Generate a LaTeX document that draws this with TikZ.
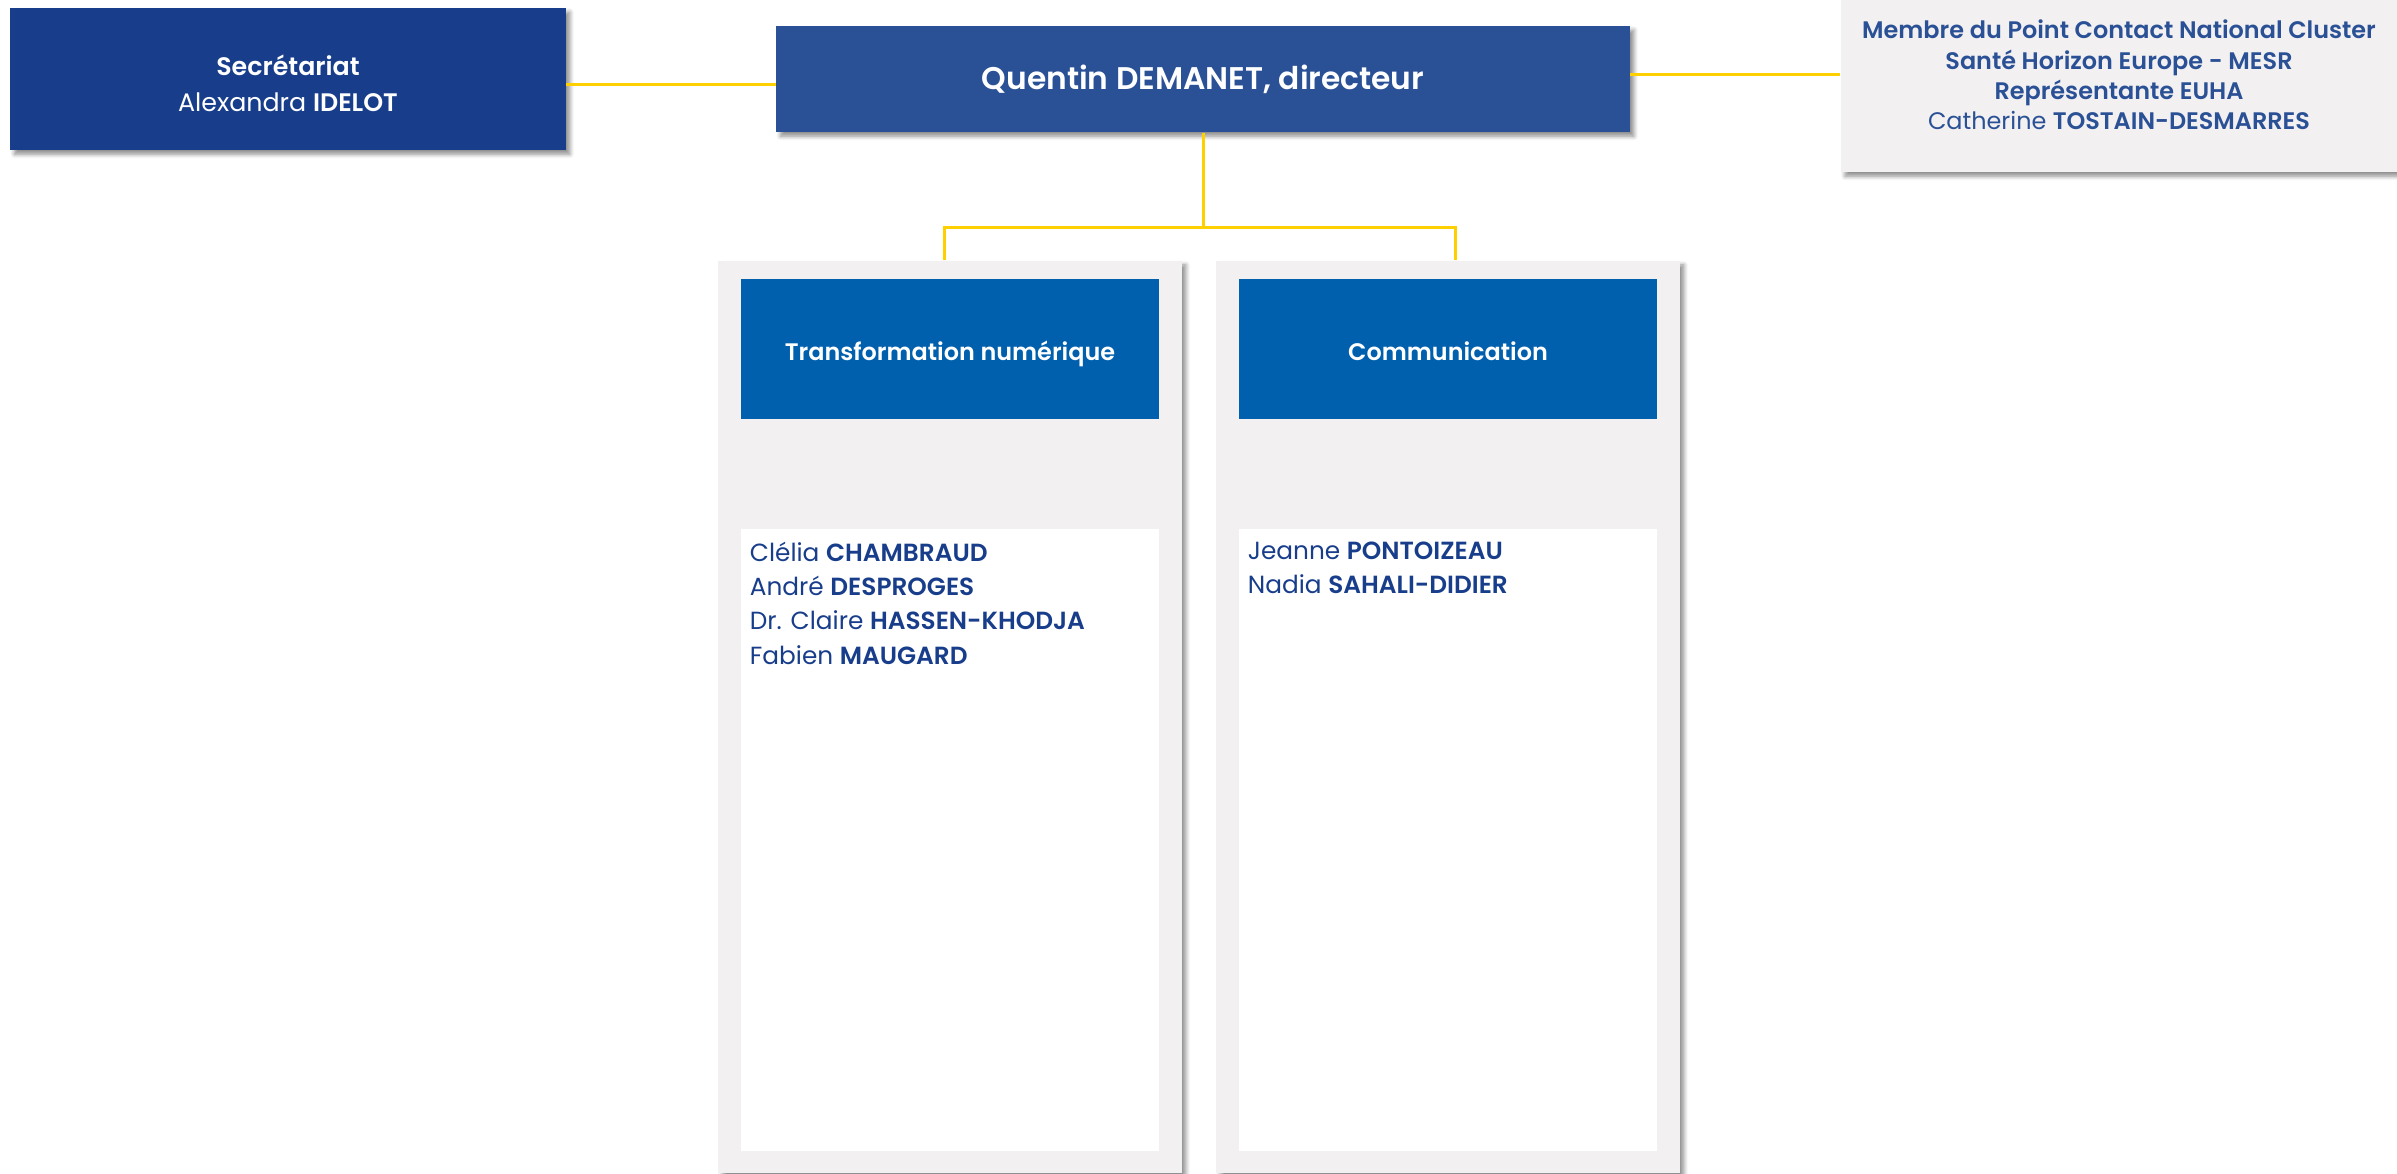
\documentclass[tikz,border=0pt]{standalone}
\usepackage{fontspec}
\setmainfont{Poppins}[BoldFont={Poppins SemiBold}]
\usetikzlibrary{shadows.blur}

\definecolor{navy}{RGB}{24,62,139}
\definecolor{royal}{RGB}{42,80,149}
\definecolor{azure}{RGB}{0,96,173}
\definecolor{paper}{RGB}{242,240,241}
\definecolor{gold}{RGB}{255,208,0}

\begin{document}
\begin{tikzpicture}[x=0.01cm,y=-0.01cm,
  link/.style={draw=gold,line width=0.85pt},
  shade/.style={blur shadow={shadow xshift=1.2pt,shadow yshift=-1.2pt,shadow blur radius=1.2pt,
    shadow blur steps=6,shadow opacity=45}},
  card/.style={shade,inner sep=0pt,align=center,text=white},
  column/.style={shade,fill=paper,inner sep=0pt,minimum width=4.63cm,minimum height=9.12cm},
  head/.style={fill=azure,inner sep=0pt,minimum width=4.18cm,minimum height=1.39cm,
    text height=0.31cm,text depth=0.07cm,
    text=white,font={\fontsize{6.8}{9}\selectfont\bfseries}},
  list/.style={fill=white,inner sep=0pt,minimum width=4.18cm,minimum height=6.21cm},
  staff/.style={anchor=north west,align=left,text=navy,inner xsep=0.09cm,inner ysep=0.13cm,
    font={\fontsize{7.05}{9.7}\selectfont}}]

\useasboundingbox (0,0) rectangle (2397,1174);

% top row
\node[card,fill=navy,minimum width=5.55cm,minimum height=1.42cm,
  font={\fontsize{7.2}{10.2}\selectfont}] (secr) at (288,79)
  {\rule{0pt}{0.3cm}\textbf{Secrétariat}\\Alexandra \textbf{IDELOT}};
\node[card,fill=royal,minimum width=8.53cm,minimum height=1.06cm,
  font={\fontsize{8.9}{10}\selectfont\bfseries}] (dir) at (1203,79)
  {Quentin DEMANET, directeur};
\node[card,fill=paper,text=royal,minimum width=5.56cm,minimum height=1.94cm,
  font={\fontsize{6.8}{8.6}\selectfont}] (euha) at (2119,75)
  {\textbf{Membre du Point Contact National Cluster}\\
   \textbf{Santé Horizon Europe - MESR}\\
   \textbf{Représentante EUHA}\\
   Catherine \textbf{TOSTAIN-DESMARRES}};

% columns
\node[column] (colA) at (950,717) {};
\node[column] (colB) at (1448,717) {};

\node[head] (headA) at (950,349) {Transformation numérique};
\node[head] (headB) at (1448,349) {Communication};

\node[list] (listA) at (950,840) {};
\node[list] (listB) at (1448,840) {};

\node[staff] (staffA) at (listA.north west)
  {Clélia \textbf{CHAMBRAUD}\\André \textbf{DESPROGES}\\
   Dr. Claire \textbf{HASSEN-KHODJA}\\Fabien \textbf{MAUGARD}};
\node[staff] (staffB) at (listB.north west)
  {Jeanne \textbf{PONTOIZEAU}\\Nadia \textbf{SAHALI-DIDIER}};

% connectors
\coordinate (fork) at (1203,228);
\draw[link] ([yshift=-0.06cm]secr.east) -- ([yshift=-0.06cm]secr.east -| dir.west);
\draw[link] ([yshift=0.04cm]dir.east) -- ([yshift=0.04cm]dir.east -| euha.west);
\draw[link] (dir.south) -- (fork);
\draw[link] ([xshift=-0.06cm]colA.north) |- (fork) -| ([xshift=0.07cm]colB.north);

\end{tikzpicture}
\end{document}
